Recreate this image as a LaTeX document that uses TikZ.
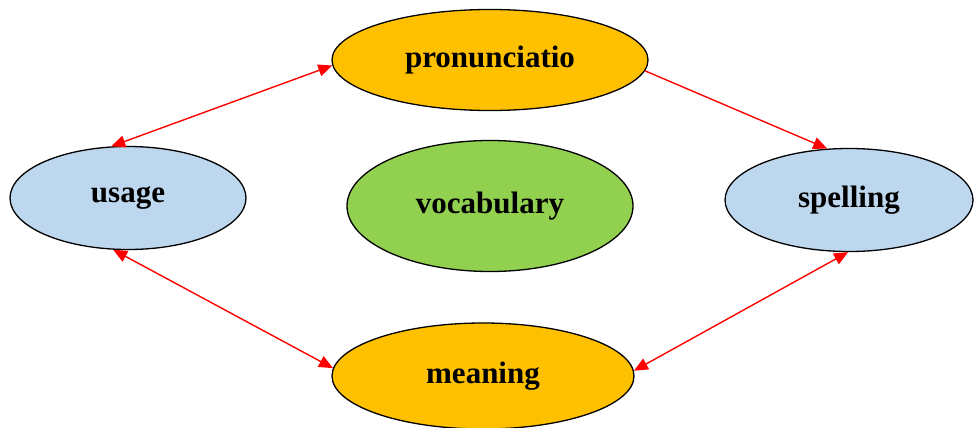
\documentclass[tikz,border=0pt]{standalone}
\usepackage{fontspec}
\setmainfont{Liberation Serif}
\usetikzlibrary{shapes.geometric,arrows.meta}
\definecolor{orng}{HTML}{FFC000}
\definecolor{lblue}{HTML}{BDD7EE}
\definecolor{lgreen}{HTML}{92D050}
\tikzset{
  oval/.style={ellipse, draw=black, line width=1.3pt, inner sep=0pt,
    font=\fontsize{31}{36}\selectfont\bfseries},
  link/.style={draw=red, line width=1.4pt, {Triangle[length=14pt,width=12pt]}-{Triangle[length=14pt,width=12pt]}},
  onelink/.style={draw=red, line width=1.4pt, -{Triangle[length=14pt,width=12pt]}}
}
\begin{document}
\begin{tikzpicture}[x=1pt,y=-1pt]
\useasboundingbox (0,0) rectangle (974,428);
\fill[white] (0,0) rectangle (974,428);
\node[oval, fill=orng, minimum width=316pt, minimum height=101pt] (pron) at (490,60) {pronunciatio};
\node[oval, fill=lblue, minimum width=236pt, minimum height=103pt] (usage) at (128,198) {usage};
\node[oval, fill=lgreen, minimum width=286pt, minimum height=131pt] (vocab) at (490,206) {vocabulary};
\node[oval, fill=lblue, minimum width=248pt, minimum height=103pt] (spell) at (849,200) {spelling};
\node[oval, fill=orng, minimum width=302pt, minimum height=106pt] (mean) at (483,376) {meaning};
\draw[link] (usage.108) -- (pron.182);
\draw[onelink] (pron.356) -- (spell.113);
\draw[link] (usage.254) -- (mean.177);
\draw[link] (spell.269) -- (mean.2);
\end{tikzpicture}
\end{document}
